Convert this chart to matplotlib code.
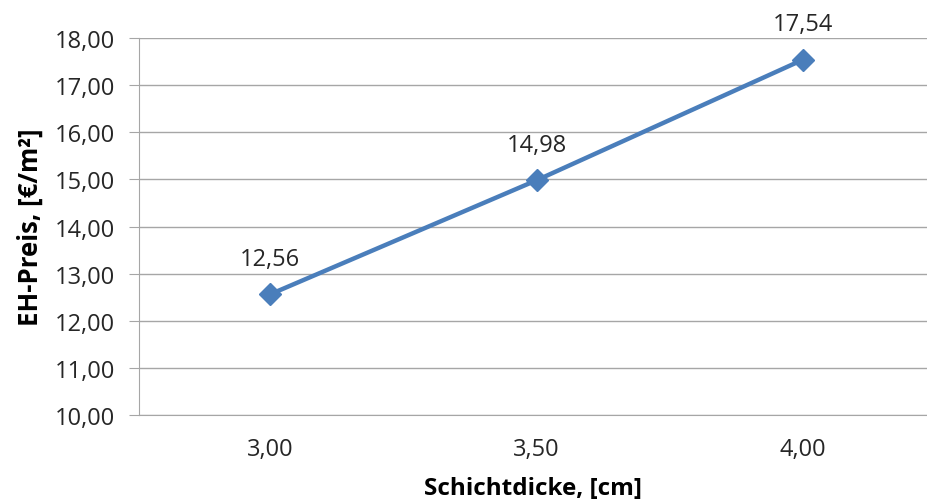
import matplotlib
matplotlib.use("Agg")
import matplotlib.pyplot as plt

thickness_labels = ["3,00", "3,50", "4,00"]
prices = [12.56, 14.98, 17.54]
price_labels = ["12,56", "14,98", "17,54"]
y_ticks = [10, 11, 12, 13, 14, 15, 16, 17, 18]
y_tick_labels = ["10,00", "11,00", "12,00", "13,00", "14,00", "15,00", "16,00", "17,00", "18,00"]

plt.rcParams["font.family"] = ["Open Sans", "DejaVu Sans"]

W, H = 927, 502
fig = plt.figure(figsize=(W / 100, H / 100), dpi=100)
left, right, top, bottom = 139, 927, 39, 416
ax = fig.add_axes([left / W, (H - bottom) / H, (right - left) / W, (bottom - top) / H])

blue = "#4A7EBB"
grid = "#A6A6A6"
text = "#262626"
x = list(range(len(prices)))
ax.plot(x, prices, color=blue, lw=3.2, marker="D", ms=11, mfc=blue, mec=blue,
        solid_capstyle="round", zorder=3, clip_on=False)

for xi, yi, lab in zip(x, prices, price_labels):
    ax.annotate(lab, (xi, yi), xytext=(0, 17), textcoords="offset points",
                ha="center", va="bottom", fontsize=17, color=text)

# category axis: 266.5 px per category, first category centred at x=270 px
px_per_cat = 266.5
ax.set_xlim(-(270 - left) / px_per_cat, (right - 270) / px_per_cat)
ax.set_ylim(10, 18)
ax.set_xticks(x)
ax.set_xticklabels(thickness_labels)
ax.set_yticks(y_ticks)
ax.set_yticklabels(y_tick_labels)

ax.grid(axis="y", color=grid, lw=1.0)
ax.set_axisbelow(True)
for s in ["top", "right"]:
    ax.spines[s].set_visible(False)
ax.spines["left"].set_color(grid)
ax.spines["bottom"].set_color(grid)
ax.tick_params(axis="y", length=7, color=grid, labelsize=17, labelcolor=text, pad=10)
ax.tick_params(axis="x", length=0, labelsize=17, labelcolor=text, pad=16)

ax.set_xlabel("Schichtdicke, [cm]", fontsize=17.5, fontweight="bold", labelpad=11)
ax.set_ylabel("EH-Preis, [€/m²]", fontsize=18.5, fontweight="bold", labelpad=8)

fig.savefig("out.png", dpi=100)
